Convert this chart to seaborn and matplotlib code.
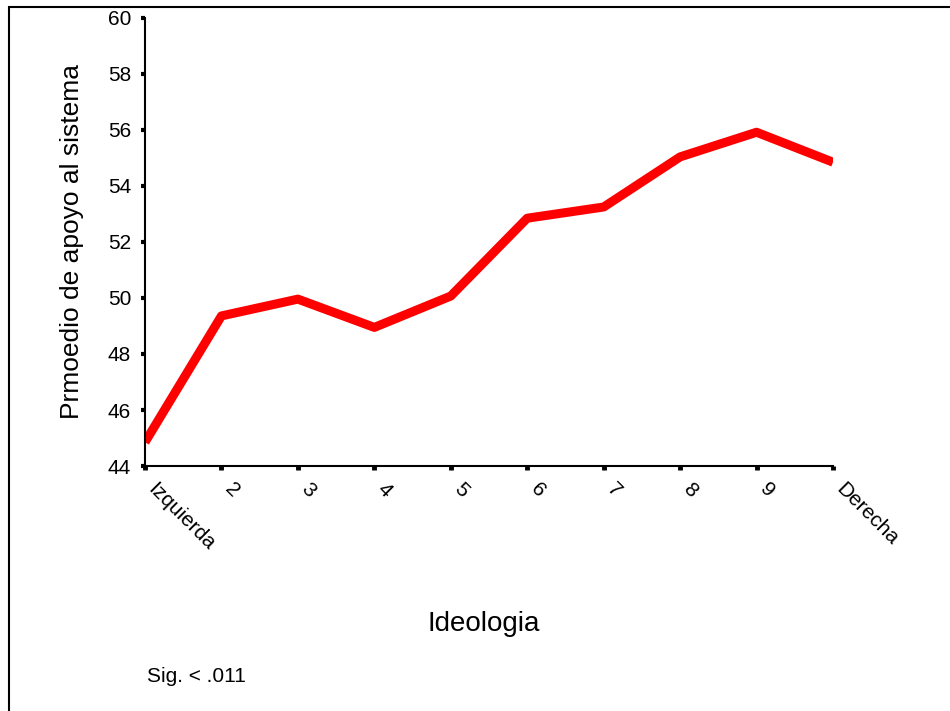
import numpy as np
import pandas as pd
import matplotlib
matplotlib.use("Agg")
import matplotlib.pyplot as plt
import matplotlib.transforms as mtransforms
from matplotlib.patches import Rectangle
import seaborn as sns

# data
categorias = ["Izquierda", "2", "3", "4", "5", "6", "7", "8", "9", "Derecha"]
apoyo = [44.85, 49.36, 49.96, 48.95, 50.07, 52.85, 53.25, 55.04, 55.92, 54.85]
yticks = [44, 46, 48, 50, 52, 54, 56, 58, 60]

sns.set_theme(style="white")
plt.rcParams['font.family'] = ['Liberation Sans', 'DejaVu Sans']
plt.rcParams['text.color'] = 'black'
plt.rcParams['axes.labelcolor'] = 'black'
plt.rcParams['xtick.color'] = 'black'
plt.rcParams['ytick.color'] = 'black'

df = pd.DataFrame({"ideologia": categorias, "apoyo": apoyo})

fig = plt.figure(figsize=(9.5, 7.11), dpi=100)
ax = fig.add_axes([145/950, 1 - 466/711, (833 - 145)/950, (466 - 18)/711])

sns.lineplot(data=df, x="ideologia", y="apoyo", sort=False, color="#ff0000",
             linewidth=6.5, ax=ax, solid_capstyle="butt")

ax.set_xlim(0, len(categorias) - 1)
ax.set_ylim(44, 60)
ax.set_yticks(yticks)
ax.set_yticklabels([str(t) for t in yticks])

for s in ["top", "right"]:
    ax.spines[s].set_visible(False)
for s in ["left", "bottom"]:
    ax.spines[s].set_linewidth(1.5)
    ax.spines[s].set_color("black")

ax.tick_params(axis="y", direction="out", length=3, width=3, color="black",
               labelsize=15, pad=7, left=True)
ax.tick_params(axis="x", direction="out", length=3, width=3.5, color="black",
               labelsize=15, pad=7, bottom=True)
shift = mtransforms.ScaledTranslation(13/100, 0, fig.dpi_scale_trans)
for lab in ax.get_xticklabels():
    lab.set_rotation(-45)
    lab.set_ha("left")
    lab.set_va("top")
    lab.set_rotation_mode("anchor")
    lab.set_transform(lab.get_transform() + shift)

ax.set_ylabel("Prmoedio de apoyo al sistema", fontsize=19)
ax.yaxis.set_label_coords(-0.088, 0.5)
ax.set_xlabel("Ideologia", fontsize=20)
ax.xaxis.set_label_coords(0.492, -0.323)

fig.text(147/950, 1 - 677/711, "Sig. < .011", fontsize=15, va="center", ha="left")

# outer frame (only left and top edges fall inside the image)
fig.patches.append(Rectangle((9/950, -0.5), 2, 0.5 + (711 - 7)/711,
                             transform=fig.transFigure, fill=False,
                             lw=1.5, ec="black"))

fig.savefig("out.png", dpi=100)
